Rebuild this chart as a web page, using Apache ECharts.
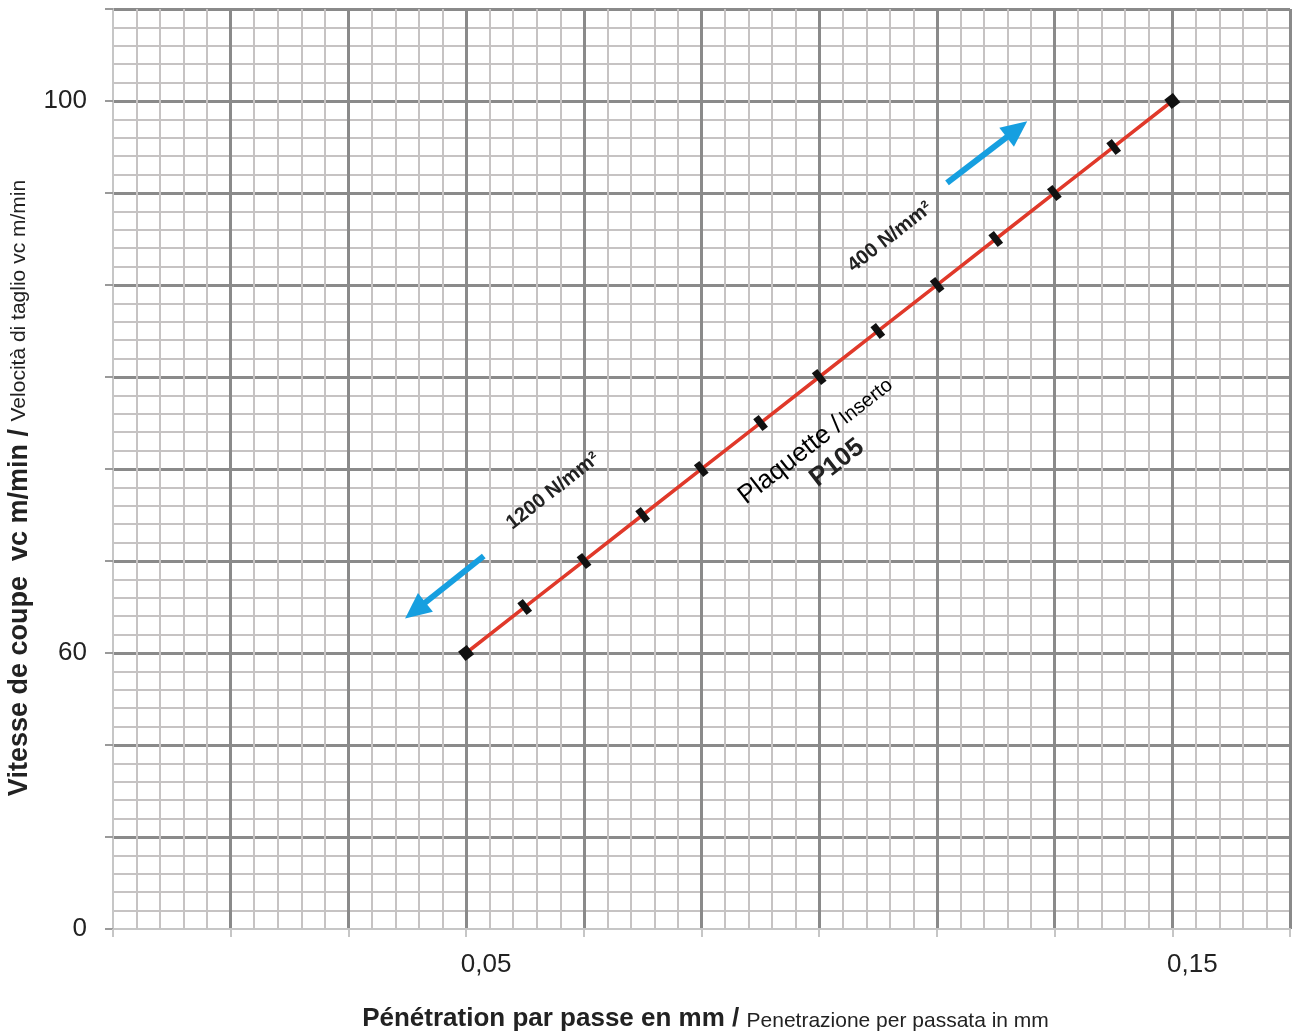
<!DOCTYPE html>
<html>
<head>
<meta charset="utf-8">
<script src="https://cdn.jsdelivr.net/npm/echarts@6/dist/echarts.min.js"></script>
<style>
html,body{margin:0;padding:0;background:#fff;}
#chart{width:1294px;height:1034px;}
</style>
</head>
<body>
<div id="chart"></div>
<script>
// ---- data ----
var feedValues = [0.05, 0.0583, 0.0667, 0.075, 0.0833, 0.0917, 0.1, 0.1083, 0.1167, 0.125, 0.1333, 0.1417, 0.15];
var speedValues = [60, 63.33, 66.67, 70, 73.33, 76.67, 80, 83.33, 86.67, 90, 93.33, 96.67, 100];
var xTickLabels = [{value: 0.05, text: '0,05'}, {value: 0.15, text: '0,15'}];
var yTickLabels = [{value: 40, text: '0'}, {value: 60, text: '60'}, {value: 100, text: '100'}];
// arrows (start, end) in data coordinates
var arrowUp = [[0.1181, 94.06], [0.1280, 97.95]];
var arrowDown = [[0.0525, 67.03], [0.0428, 63.08]];

var FONT = '"Liberation Sans", Arial, sans-serif';
var xInterval = 0.1 / 6;
var yInterval = 20 / 3;
var yMin = 40;

function findLabel(list, v, tol) {
  for (var i = 0; i < list.length; i++) {
    if (Math.abs(list[i].value - v) < tol) return list[i].text;
  }
  return '';
}

var seriesData = feedValues.map(function (x, i) {
  var item = {value: [x, speedValues[i]]};
  if (i === 0 || i === feedValues.length - 1) {
    item.symbolSize = [11, 12];
  }
  return item;
});

var chart = echarts.init(document.getElementById('chart'));
var rot = 38 * Math.PI / 180;
chart.setOption({
  backgroundColor: '#ffffff',
  animation: false,
  grid: {left: 113, right: 4, top: 9, bottom: 105, containLabel: false, outerBoundsMode: 'none'},
  xAxis: {
    type: 'value',
    min: 0,
    max: xInterval * 10,
    interval: xInterval,
    name: '{b|Pénétration par passe en mm / }{r|Penetrazione per passata in mm}',
    nameLocation: 'middle',
    nameGap: 77,
    nameTextStyle: {
      padding: [0, 0, 0, 8],
      rich: {
        b: {fontFamily: FONT, fontSize: 26, fontWeight: 'bold', color: '#222'},
        r: {fontFamily: FONT, fontSize: 21, color: '#222', padding: [4, 0, 0, 0]}
      }
    },
    axisLine: {show: true, lineStyle: {color: '#c6c6c6', width: 2}},
    axisTick: {show: true, length: 8, lineStyle: {color: '#c6c6c6', width: 2}},
    axisLabel: {
      margin: 23,
      fontFamily: FONT,
      fontSize: 26,
      color: '#222',
      padding: [0, 0, 0, 40],
      formatter: function (v) { return findLabel(xTickLabels, v, 1e-4); }
    },
    splitLine: {show: true, showMinLine: false, lineStyle: {color: '#8a8a8a', width: 3}},
    minorTick: {show: false, splitNumber: 5},
    minorSplitLine: {show: true, lineStyle: {color: '#c6c3c3', width: 2}}
  },
  yAxis: {
    type: 'value',
    min: yMin,
    max: yMin + yInterval * 10,
    interval: yInterval,
    name: '{b|Vitesse de coupe  vc m/min / }{r|Velocità di taglio vc m/min}',
    nameLocation: 'middle',
    nameGap: 80,
    nameRotate: 90,
    nameTextStyle: {
      padding: [0, 38, 0, 0],
      rich: {
        b: {fontFamily: FONT, fontSize: 27, fontWeight: 'bold', color: '#222'},
        r: {fontFamily: FONT, fontSize: 21, color: '#222'}
      }
    },
    axisLine: {show: true, lineStyle: {color: '#c6c6c6', width: 2}},
    axisTick: {show: true, length: 8, lineStyle: {color: '#9a9a9a', width: 2}},
    axisLabel: {
      margin: 26,
      fontFamily: FONT,
      fontSize: 26,
      color: '#222',
      formatter: function (v) { return findLabel(yTickLabels, v, 0.01); }
    },
    splitLine: {show: true, showMinLine: false, lineStyle: {color: '#8a8a8a', width: 3}},
    minorTick: {show: false, splitNumber: 5},
    minorSplitLine: {show: true, lineStyle: {color: '#c6c3c3', width: 2}}
  },
  series: [{
    type: 'line',
    data: seriesData,
    lineStyle: {color: '#e0392a', width: 3.5},
    symbol: 'rect',
    symbolSize: [7, 15],
    symbolRotate: 38,
    showAllSymbol: true,
    itemStyle: {color: '#111111'},
    z: 3,
    markLine: {
      silent: true,
      symbol: ['none', 'triangle'],
      symbolSize: [24, 26],
      label: {show: false},
      lineStyle: {color: '#169fe0', width: 6, type: 'solid'},
      data: [
        [{coord: arrowUp[0]}, {coord: arrowUp[1]}],
        [{coord: arrowDown[0]}, {coord: arrowDown[1]}]
      ]
    }
  }],
  graphic: [
    {type: 'text', x: 890, y: 237, rotation: rot, z: 10,
     style: {text: '400 N/mm²', font: 'bold 20px ' + FONT, fill: '#222', align: 'center', verticalAlign: 'middle'}},
    {type: 'text', x: 553, y: 491, rotation: rot, z: 10,
     style: {text: '1200 N/mm²', font: 'bold 20px ' + FONT, fill: '#222', align: 'center', verticalAlign: 'middle'}},
    {type: 'text', x: 816, y: 441, rotation: rot, z: 10,
     style: {text: '{a|Plaquette /} {c|Inserto}', align: 'center', verticalAlign: 'middle',
       rich: {a: {fontFamily: FONT, fontSize: 26, color: '#222'}, c: {fontFamily: FONT, fontSize: 20, color: '#222'}}}},
    {type: 'text', x: 837, y: 463, rotation: rot, z: 10,
     style: {text: 'P105', font: 'bold 26px ' + FONT, fill: '#222', align: 'center', verticalAlign: 'middle'}}
  ]
});
</script>
</body>
</html>
